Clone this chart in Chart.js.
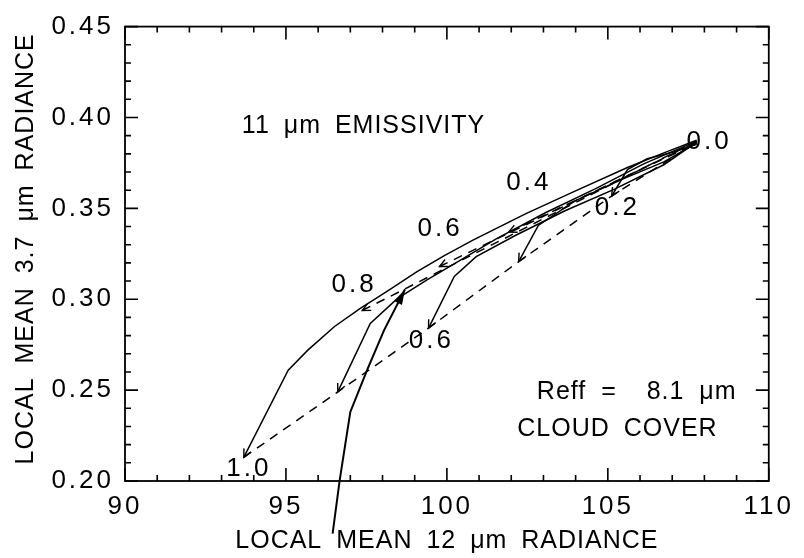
<!DOCTYPE html>
<html>
<head>
<meta charset="utf-8">
<title>Local mean radiance</title>
<script src="https://cdn.jsdelivr.net/npm/chart.js@4.4.0/dist/chart.umd.min.js"></script>
<style>
  html, body { margin: 0; padding: 0; background: #fff; }
  canvas { display: block; }
</style>
</head>
<body>
<canvas id="radiance_chart" width="804" height="558"></canvas>
<script>
// axis ticks
const xTicks = [90, 95, 100, 105, 110];
const yTicks = [0.2, 0.25, 0.3, 0.35, 0.4, 0.45];
const xTitle = "LOCAL MEAN 12 \u03bcm RADIANCE";
const yTitle = "LOCAL MEAN 3.7 \u03bcm RADIANCE";

// solid curves, one per cloud cover, 12 um radiance (x) vs 3.7 um radiance (y)
const cover10X = [93.69, 95.07, 95.68, 96.51, 97.31, 98.2, 99.06, 99.92, 100.81, 102.44, 103.98, 105.61, 106.74, 107.76];
const cover10Y = [0.213, 0.261, 0.272, 0.285, 0.295, 0.305, 0.315, 0.324, 0.3325, 0.347, 0.3595, 0.3725, 0.3805, 0.3875];
const cover08X = [96.61, 97.62, 98.45, 99.37, 100.29, 101.52, 103.06, 104.59, 106.13, 107.76];
const cover08Y = [0.249, 0.2867, 0.3002, 0.3105, 0.3202, 0.3331, 0.3476, 0.3606, 0.3746, 0.387];
const cover06X = [99.43, 100.23, 100.91, 102.14, 103.67, 105.21, 106.74, 107.76];
const cover06Y = [0.2841, 0.3126, 0.3234, 0.3352, 0.3487, 0.3606, 0.374, 0.3864];
const cover04X = [102.23, 102.84, 103.98, 105.51, 106.74, 107.76];
const cover04Y = [0.3207, 0.3406, 0.3541, 0.3665, 0.3756, 0.3859];
const cover02X = [105.12, 105.61, 106.22, 107.05, 107.76];
const cover02Y = [0.3568, 0.3713, 0.3773, 0.381, 0.3853];

// dashed line through the curve ends
const endsX = [93.69, 96.61, 99.43, 102.23, 105.12, 107.76];
const endsY = [0.213, 0.249, 0.2841, 0.3207, 0.3568, 0.3864];

// dashed emissivity lines under the envelope
const emis1X = [97.37, 107.76];
const emis1Y = [0.2938, 0.387];
const emis2X = [99.77, 107.76];
const emis2Y = [0.318, 0.3864];
const emis3X = [101.92, 107.76];
const emis3Y = [0.3369, 0.3859];

// bold arrow coming up from below the axis
const arrowX = [96.45, 96.67, 97.0, 97.53, 98.05, 98.7];
const arrowY = [0.171, 0.2005, 0.238, 0.2614, 0.283, 0.3055];

// value labels next to the curves
const numberNotes = [
  { text: "0.8", x: 97.07, y: 0.3078 },
  { text: "0.6", x: 99.74, y: 0.339 },
  { text: "0.4", x: 102.5, y: 0.3643 },
  { text: "0.0", x: 108.1, y: 0.3864 },
  { text: "0.2", x: 105.25, y: 0.3503 },
  { text: "0.6", x: 99.47, y: 0.277 },
  { text: "1.0", x: 93.8, y: 0.2065 }
];

// captions inside the plot
const wordNotes = [
  { text: "11 \u03bcm EMISSIVITY", x: 93.63, y: 0.395, align: "left", gap: 6 },
  { text: "Reff =  8.1 \u03bcm", x: 109.0, y: 0.249, align: "right", gap: 7 },
  { text: "CLOUD COVER", x: 105.3, y: 0.2285, align: "center", gap: 6 }
];

const FONT = "'Liberation Sans', Arial, sans-serif";
const pts = (xs, ys) => xs.map((x, i) => ({ x: x, y: ys[i] }));

const line = (xs, ys, extra) => Object.assign({
  data: pts(xs, ys),
  borderColor: "#000",
  borderWidth: 1.5,
  pointRadius: 0,
  tension: 0,
  fill: false
}, extra);

const dashed = { borderDash: [9, 7], borderWidth: 1.5 };

// wide plotter-style digits for the tick labels
const spacing = {
  id: "spacing",
  beforeUpdate(chart) { chart.ctx.letterSpacing = "3px"; },
  beforeDraw(chart) { chart.ctx.letterSpacing = "3px"; }
};

// frame with inward ticks on all four sides
const frame = {
  id: "frame",
  afterDraw(chart) {
    const c = chart.ctx;
    const a = chart.chartArea;
    const sx = chart.scales.x;
    const sy = chart.scales.y;
    c.save();
    c.setLineDash([]);
    c.strokeStyle = "#000";
    c.lineWidth = 1.8;
    c.strokeRect(a.left, a.top, a.right - a.left, a.bottom - a.top);
    c.lineWidth = 1.6;
    for (let i = 0; i <= 20; i++) {
      const px = sx.getPixelForValue(90 + i);
      const len = i % 5 === 0 ? 13 : 6;
      c.beginPath();
      c.moveTo(px, a.bottom);
      c.lineTo(px, a.bottom - len);
      c.moveTo(px, a.top);
      c.lineTo(px, a.top + len);
      c.stroke();
    }
    for (let i = 0; i <= 25; i++) {
      const py = sy.getPixelForValue(0.2 + i * 0.01);
      const len = i % 5 === 0 ? 13 : 6;
      c.beginPath();
      c.moveTo(a.left, py);
      c.lineTo(a.left + len, py);
      c.moveTo(a.right, py);
      c.lineTo(a.right - len, py);
      c.stroke();
    }
    c.restore();
  }
};

// arrowheads at curve ends
const arrowHeads = {
  id: "arrowHeads",
  afterDatasetsDraw(chart) {
    const c = chart.ctx;
    chart.data.datasets.forEach((ds, i) => {
      if (!ds.arrow) return;
      const p = chart.getDatasetMeta(i).data;
      const tip = ds.arrow === "end" ? p[p.length - 1] : p[0];
      const from = ds.arrow === "end" ? p[p.length - 2] : p[1];
      const ang = Math.atan2(tip.y - from.y, tip.x - from.x);
      const len = ds.arrowFilled ? 16 : 9;
      const spread = ds.arrowFilled ? 0.28 : 0.45;
      c.save();
      c.setLineDash([]);
      c.strokeStyle = "#000";
      c.fillStyle = "#000";
      c.lineWidth = 1.4;
      c.beginPath();
      c.moveTo(tip.x - len * Math.cos(ang - spread), tip.y - len * Math.sin(ang - spread));
      c.lineTo(tip.x, tip.y);
      c.lineTo(tip.x - len * Math.cos(ang + spread), tip.y - len * Math.sin(ang + spread));
      if (ds.arrowFilled) { c.closePath(); c.fill(); } else { c.stroke(); }
      c.restore();
    });
  }
};

// axis titles and in-plot text
const labels = {
  id: "labels",
  afterDraw(chart) {
    const c = chart.ctx;
    const a = chart.chartArea;
    const sx = chart.scales.x;
    const sy = chart.scales.y;
    c.save();
    c.fillStyle = "#000";
    c.textBaseline = "middle";

    c.font = "26px " + FONT;
    c.letterSpacing = "3px";
    c.textAlign = "center";
    numberNotes.forEach(n => {
      c.fillText(n.text, sx.getPixelForValue(n.x) + 1.5, sy.getPixelForValue(n.y));
    });

    c.font = "25px " + FONT;
    c.letterSpacing = "1px";
    wordNotes.forEach(n => {
      c.wordSpacing = n.gap + "px";
      c.textAlign = n.align;
      c.fillText(n.text, sx.getPixelForValue(n.x), sy.getPixelForValue(n.y));
    });

    c.wordSpacing = "6px";
    c.textAlign = "center";
    c.fillText(xTitle, (a.left + a.right) / 2, 541);
    c.translate(26, (a.top + a.bottom) / 2 - 5);
    c.rotate(-Math.PI / 2);
    c.fillText(yTitle, 0, 0);
    c.restore();
  }
};

const chart = new Chart(document.getElementById("radiance_chart").getContext("2d"), {
  type: "line",
  data: {
    datasets: [
      line(cover10X, cover10Y, { arrow: "start" }),
      line(cover08X, cover08Y, { arrow: "start" }),
      line(cover06X, cover06Y, { arrow: "start" }),
      line(cover04X, cover04Y, { arrow: "start" }),
      line(cover02X, cover02Y, { arrow: "start" }),
      line(endsX, endsY, dashed),
      line(emis1X, emis1Y, Object.assign({ arrow: "start" }, dashed)),
      line(emis2X, emis2Y, Object.assign({ arrow: "start" }, dashed)),
      line(emis3X, emis3Y, Object.assign({ arrow: "start" }, dashed)),
      line(arrowX, arrowY, { borderWidth: 2, clip: false, arrow: "end", arrowFilled: true })
    ]
  },
  options: {
    responsive: false,
    animation: false,
    layout: { padding: { top: 17, right: 28, left: 0, bottom: 0 } },
    plugins: { legend: { display: false }, tooltip: { enabled: false } },
    scales: {
      x: {
        type: "linear",
        min: 90,
        max: 110,
        afterFit(s) { s.height = 77; },
        afterBuildTicks(s) { s.ticks = xTicks.map(v => ({ value: v })); },
        grid: { display: false, drawTicks: false },
        border: { display: false },
        ticks: { color: "#000", padding: 10, maxRotation: 0, autoSkip: false, font: { family: FONT, size: 26 } },
        title: { display: false }
      },
      y: {
        type: "linear",
        min: 0.2,
        max: 0.45,
        afterFit(s) { s.width = 125; },
        afterBuildTicks(s) { s.ticks = yTicks.map(v => ({ value: v })); },
        grid: { display: false, drawTicks: false },
        border: { display: false },
        ticks: { color: "#000", padding: 11, autoSkip: false, font: { family: FONT, size: 26 }, callback: v => v.toFixed(2) },
        title: { display: false }
      }
    }
  },
  plugins: [spacing, frame, arrowHeads, labels]
});
</script>
</body>
</html>
